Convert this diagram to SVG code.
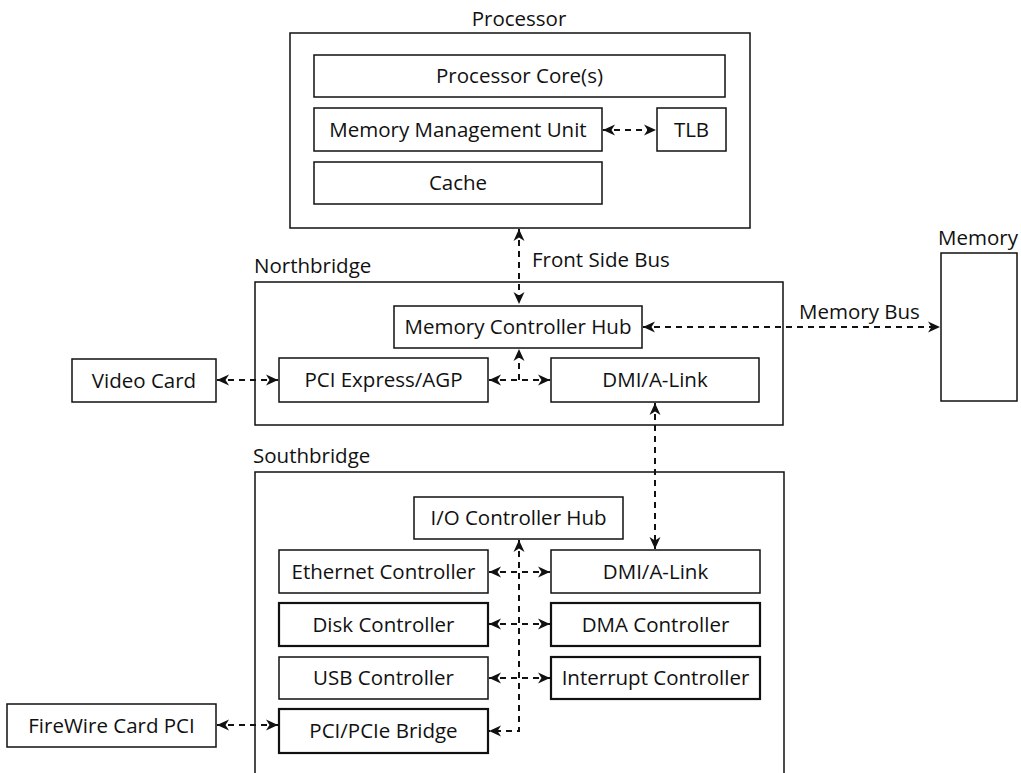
<svg xmlns="http://www.w3.org/2000/svg" width="1021" height="773" viewBox="0 0 1021 773">
<style>
  .box { fill: #fff; stroke: #111; stroke-width: 1.5; }
  .thick { stroke-width: 2.2; }
  .frame { fill: none; stroke: #111; stroke-width: 1.5; }
  text { font-family: "Open Sans", "Noto Sans", "Liberation Sans", sans-serif; font-size: 20.5px; fill: #111; }
  .c { text-anchor: middle; }
  .conn { fill: none; stroke: #111; stroke-width: 2; stroke-dasharray: 6 5; }
</style>
<defs>
  <marker id="ah" viewBox="0 0 12 12" refX="12" refY="6" markerWidth="12" markerHeight="12" markerUnits="userSpaceOnUse" orient="auto-start-reverse">
    <path d="M0,0.5 L12,6 L0,11.5 L3.5,6 z" fill="#111"/>
  </marker>
</defs>
<rect width="1021" height="773" fill="#fff"/>

<g id="processor">
  <rect class="frame" x="290" y="33" width="460" height="195"/>
  <text class="c" x="519" y="26">Processor</text>
</g>
<g id="core">
  <rect class="box" x="314" y="55" width="411" height="42"/>
  <text class="c" x="519.5" y="83">Processor Core(s)</text>
</g>
<g id="mmu">
  <rect class="box" x="314" y="108" width="288" height="43"/>
  <text class="c" x="458" y="137">Memory Management Unit</text>
</g>
<g id="tlb">
  <rect class="box" x="657" y="108" width="69" height="43"/>
  <text class="c" x="691.5" y="137">TLB</text>
</g>
<g id="cache">
  <rect class="box" x="314" y="162" width="288" height="42"/>
  <text class="c" x="458" y="190">Cache</text>
</g>

<g id="northbridge">
  <rect class="frame" x="255" y="282" width="528" height="143"/>
  <text x="254" y="273">Northbridge</text>
</g>
<g id="mch">
  <rect class="box" x="394" y="306" width="248" height="42"/>
  <text class="c" x="518" y="334">Memory Controller Hub</text>
</g>
<g id="pcie">
  <rect class="box" x="279" y="358" width="209" height="44"/>
  <text class="c" x="383.5" y="387">PCI Express/AGP</text>
</g>
<g id="dmi-nb">
  <rect class="box" x="551" y="358" width="208" height="44"/>
  <text class="c" x="655" y="387">DMI/A-Link</text>
</g>
<g id="video">
  <rect class="box" x="72" y="359" width="144" height="43"/>
  <text class="c" x="144" y="388">Video Card</text>
</g>
<g id="memory">
  <rect class="box" x="941" y="253" width="76" height="148"/>
  <text x="938" y="245">Memory</text>
</g>

<g id="southbridge">
  <path class="frame" d="M255,773 L255,472 L784,472 L784,773"/>
  <text x="253" y="463">Southbridge</text>
</g>
<g id="ioch">
  <rect class="box" x="414" y="497" width="209" height="42"/>
  <text class="c" x="518.5" y="525">I/O Controller Hub</text>
</g>
<g id="ethernet">
  <rect class="box" x="279" y="550" width="209" height="43"/>
  <text class="c" x="383.5" y="579">Ethernet Controller</text>
</g>
<g id="dmi-sb">
  <rect class="box" x="551" y="550" width="209" height="43"/>
  <text class="c" x="655.5" y="579">DMI/A-Link</text>
</g>
<g id="disk">
  <rect class="box thick" x="279" y="603" width="209" height="43"/>
  <text class="c" x="383.5" y="632">Disk Controller</text>
</g>
<g id="dma">
  <rect class="box thick" x="551" y="603" width="209" height="43"/>
  <text class="c" x="655.5" y="632">DMA Controller</text>
</g>
<g id="usb">
  <rect class="box" x="279" y="657" width="209" height="42"/>
  <text class="c" x="383.5" y="685">USB Controller</text>
</g>
<g id="interrupt">
  <rect class="box thick" x="551" y="657" width="209" height="42"/>
  <text class="c" x="655.5" y="685">Interrupt Controller</text>
</g>
<g id="pcibridge">
  <rect class="box thick" x="279" y="709" width="209" height="44"/>
  <text class="c" x="383.5" y="738">PCI/PCIe Bridge</text>
</g>
<g id="firewire">
  <rect class="box" x="7" y="704" width="209" height="43"/>
  <text class="c" x="111.5" y="733">FireWire Card PCI</text>
</g>

<g id="connectors">
  <line class="conn" x1="603" y1="130" x2="656" y2="130" marker-start="url(#ah)" marker-end="url(#ah)"/>
  <line class="conn" x1="519" y1="229" x2="519" y2="304" marker-start="url(#ah)" marker-end="url(#ah)"/>
  <text x="532" y="267">Front Side Bus</text>
  <line class="conn" x1="643" y1="327" x2="940" y2="327" marker-start="url(#ah)" marker-end="url(#ah)"/>
  <text x="799" y="319">Memory Bus</text>
  <line class="conn" x1="217" y1="380" x2="278" y2="380" marker-start="url(#ah)" marker-end="url(#ah)"/>
  <line class="conn" x1="489" y1="380" x2="550" y2="380" marker-start="url(#ah)" marker-end="url(#ah)"/>
  <line class="conn" x1="519" y1="380" x2="519" y2="349" marker-end="url(#ah)"/>
  <line class="conn" x1="655" y1="403" x2="655" y2="549" marker-start="url(#ah)" marker-end="url(#ah)"/>
  <path class="conn" d="M519,540 L519,731 L489,731" marker-start="url(#ah)" marker-end="url(#ah)"/>
  <line class="conn" x1="489" y1="572" x2="550" y2="572" marker-start="url(#ah)" marker-end="url(#ah)"/>
  <line class="conn" x1="489" y1="624" x2="550" y2="624" marker-start="url(#ah)" marker-end="url(#ah)"/>
  <line class="conn" x1="489" y1="678" x2="550" y2="678" marker-start="url(#ah)" marker-end="url(#ah)"/>
  <line class="conn" x1="217" y1="725" x2="278" y2="725" marker-start="url(#ah)" marker-end="url(#ah)"/>
</g>
</svg>
